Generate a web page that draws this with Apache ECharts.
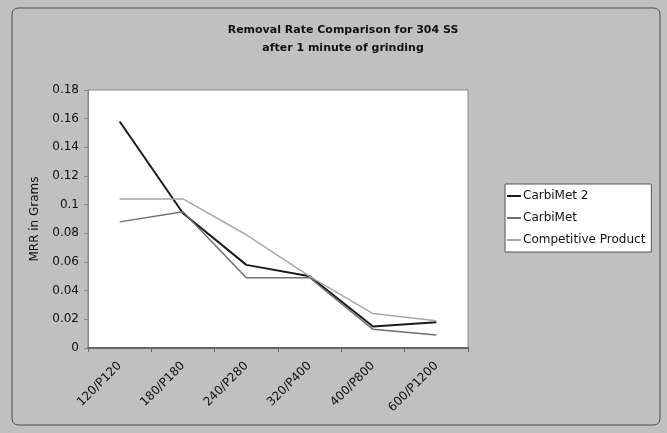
<!DOCTYPE html>
<html>
<head>
<meta charset="utf-8">
<script src="https://cdn.jsdelivr.net/npm/echarts@6/dist/echarts.min.js"></script>
<style>
html,body{margin:0;padding:0;background:#c0c0c0;}
#chart{width:667px;height:433px;}
</style>
</head>
<body>
<div id="chart"></div>
<script>
var categories = ['120/P120', '180/P180', '240/P280', '320/P400', '400/P800', '600/P1200'];
var carbimet2 = [0.158, 0.094, 0.058, 0.050, 0.015, 0.018];
var carbimet = [0.088, 0.095, 0.049, 0.049, 0.013, 0.009];
var competitive = [0.104, 0.104, 0.079, 0.050, 0.024, 0.019];
var seriesNames = ['CarbiMet 2', 'CarbiMet', 'Competitive Product'];
var titleLines = ['Removal Rate Comparison for 304 SS', 'after 1 minute of grinding'];
var yAxisTitle = 'MRR in Grams';

var FONT = 'DejaVu Sans';
var chart = echarts.init(document.getElementById('chart'));
chart.setOption({
  backgroundColor: '#c0c0c0',
  animation: false,
  graphic: [{
    type: 'rect',
    shape: {x: 12, y: 8, width: 648, height: 417, r: 6},
    style: {fill: '#c0c0c0', stroke: '#4a4a4a', lineWidth: 1},
    z: -10
  }],
  title: {
    text: titleLines.join('\n'),
    left: 338,
    textAlign: 'center',
    top: 16,
    textStyle: {fontSize: 11, fontWeight: 'bold', color: '#111', lineHeight: 18, fontFamily: FONT}
  },
  legend: {
    orient: 'vertical',
    left: 505,
    top: 184,
    data: seriesNames,
    icon: 'rect',
    backgroundColor: '#fff',
    borderColor: '#555',
    borderWidth: 1,
    padding: [6, 6, 6, 2],
    itemGap: 10,
    itemWidth: 14,
    itemHeight: 2,
    textStyle: {fontSize: 12, color: '#111', fontFamily: FONT, padding: [0, 0, 0, -3]}
  },
  grid: {
    left: 88, top: 90, width: 380, height: 258,
    show: true, backgroundColor: '#fff', borderColor: '#888', borderWidth: 1
  },
  xAxis: {
    type: 'category',
    data: categories,
    boundaryGap: true,
    axisLine: {lineStyle: {color: '#666', width: 2}},
    axisTick: {show: true, length: 4, lineStyle: {color: '#666'}},
    axisLabel: {rotate: 45, fontSize: 12, color: '#111', margin: 16, fontFamily: FONT}
  },
  yAxis: {
    type: 'value',
    min: 0, max: 0.18, interval: 0.02,
    name: yAxisTitle,
    nameLocation: 'middle',
    nameGap: 47,
    nameTextStyle: {fontSize: 12, color: '#111', fontFamily: FONT},
    axisLine: {show: true, lineStyle: {color: '#888'}},
    axisTick: {show: true, length: 4, lineStyle: {color: '#888'}},
    splitLine: {show: false},
    axisLabel: {fontSize: 12, color: '#111', margin: 9, fontFamily: FONT,
      formatter: function (v) { return String(+v.toFixed(2)); }}
  },
  series: [
    {name: seriesNames[0], type: 'line', data: carbimet2, symbol: 'none',
      lineStyle: {color: '#1a1a1a', width: 2}, itemStyle: {color: '#1a1a1a'}},
    {name: seriesNames[1], type: 'line', data: carbimet, symbol: 'none',
      lineStyle: {color: '#707070', width: 1.5}, itemStyle: {color: '#707070'}},
    {name: seriesNames[2], type: 'line', data: competitive, symbol: 'none',
      lineStyle: {color: '#a8a8a8', width: 1.5}, itemStyle: {color: '#a8a8a8'}}
  ]
});
</script>
</body>
</html>
